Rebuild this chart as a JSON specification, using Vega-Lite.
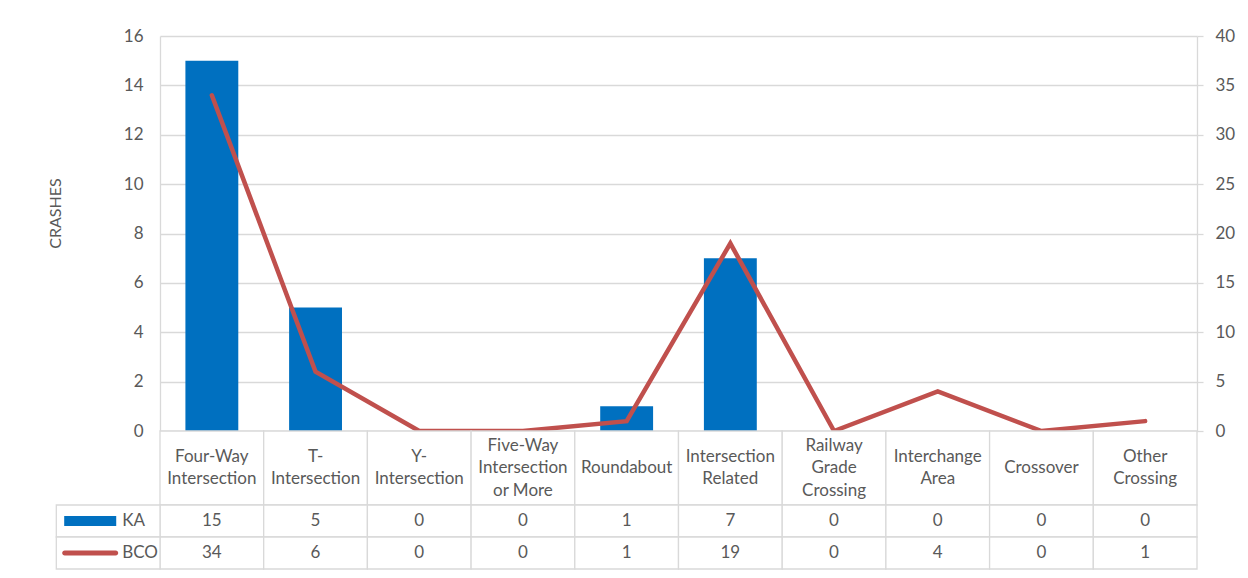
{
  "$schema": "https://vega.github.io/schema/vega-lite/v6.json",
  "padding": {"left": 47, "top": 27, "right": 5, "bottom": 5},
  "background": "white",
  "bounds": "flush",
  "spacing": 0,
  "config": {"view": {"stroke": null}, "font": "Lato"},
  "datasets": {
    "main": [
      {"category": "Four-Way Intersection", "label": "Four-Way\nIntersection", "KA": 15, "BCO": 34},
      {"category": "T-Intersection", "label": "T-\nIntersection", "KA": 5, "BCO": 6},
      {"category": "Y-Intersection", "label": "Y-\nIntersection", "KA": 0, "BCO": 0},
      {"category": "Five-Way Intersection or More", "label": "Five-Way\nIntersection\nor More", "KA": 0, "BCO": 0},
      {"category": "Roundabout", "label": "Roundabout", "KA": 1, "BCO": 1},
      {"category": "Intersection Related", "label": "Intersection\nRelated", "KA": 7, "BCO": 19},
      {"category": "Railway Grade Crossing", "label": "Railway\nGrade\nCrossing", "KA": 0, "BCO": 0},
      {"category": "Interchange Area", "label": "Interchange\nArea", "KA": 0, "BCO": 4},
      {"category": "Crossover", "label": "Crossover", "KA": 0, "BCO": 0},
      {"category": "Other Crossing", "label": "Other\nCrossing", "KA": 0, "BCO": 1}
    ],
    "keys": [
      {"series": "KA", "category": "key"},
      {"series": "BCO", "category": "key"}
    ]
  },
  "resolve": {"scale": {"x": "independent", "y": "independent", "color": "independent", "shape": "independent"}},
  "vconcat": [
    {
      "width": 1037,
      "height": 395,
      "data": {"name": "main"},
      "encoding": {
        "x": {"field": "category", "type": "nominal", "sort": null, "scale": {"paddingInner": 0, "paddingOuter": 0}, "axis": null}
      },
      "layer": [
        {
          "mark": {"type": "bar", "color": "#0070C0", "width": {"band": 0.51}},
          "encoding": {
            "y": {
              "field": "KA", "type": "quantitative",
              "scale": {"domain": [0, 16], "nice": false},
              "axis": {
                "orient": "left", "values": [0, 2, 4, 6, 8, 10, 12, 14, 16],
                "grid": true, "gridColor": "#d9d9d9", "gridWidth": 1.3,
                "domainColor": "#d9d9d9", "domainWidth": 1.3, "ticks": false,
                "labelPadding": 17, "labelFontSize": 17, "labelColor": "#595959", "labelFont": "Lato",
                "title": "CRASHES", "titleFont": "Lato", "titleFontSize": 16, "titleFontWeight": "normal",
                "titleColor": "#595959", "titlePadding": 60, "titleY": 177
              }
            }
          }
        },
        {
          "mark": {"type": "line", "color": "#C0504D", "strokeWidth": 4.5, "strokeCap": "round"},
          "encoding": {
            "y": {
              "field": "BCO", "type": "quantitative",
              "scale": {"domain": [0, 40], "nice": false},
              "axis": {
                "orient": "right", "values": [0, 5, 10, 15, 20, 25, 30, 35, 40],
                "grid": false, "domainColor": "#d9d9d9", "domainWidth": 1.3,
                "ticks": true, "tickColor": "#d9d9d9", "tickSize": 6, "tickWidth": 1.3,
                "labelPadding": 12, "labelFontSize": 17, "labelColor": "#595959", "labelFont": "Lato",
                "title": null
              }
            }
          }
        }
      ],
      "resolve": {"scale": {"y": "independent"}}
    },
    {
      "width": 1037,
      "height": 74,
      "data": {"name": "main"},
      "encoding": {
        "x": {"field": "category", "type": "nominal", "sort": null, "scale": {"paddingInner": 0, "paddingOuter": 0}, "axis": null}
      },
      "layer": [
        {"mark": {"type": "rect", "fill": "white", "stroke": "#d9d9d9", "strokeWidth": 1.3}},
        {
          "mark": {
            "type": "text", "font": "Lato", "fontSize": 17, "color": "#595959", "lineBreak": "\n", "lineHeight": 22.5, "baseline": "middle",
            "dy": {"expr": "-(length(split(datum.label, '\\n')) - 1) * 11.25"}
          },
          "encoding": {"text": {"field": "label", "type": "nominal"}}
        }
      ]
    },
    {
      "width": 1037,
      "height": 64,
      "encoding": {
        "x": {
          "field": "category", "type": "nominal",
          "scale": {
            "domain": ["key", "Four-Way Intersection", "T-Intersection", "Y-Intersection", "Five-Way Intersection or More", "Roundabout", "Intersection Related", "Railway Grade Crossing", "Interchange Area", "Crossover", "Other Crossing"],
            "range": [-103.7, 1037], "paddingInner": 0, "paddingOuter": 0
          },
          "axis": null
        },
        "y": {"field": "series", "type": "nominal", "scale": {"domain": ["KA", "BCO"], "paddingInner": 0, "paddingOuter": 0}, "axis": null}
      },
      "layer": [
        {
          "data": {"name": "main"},
          "transform": [{"fold": ["KA", "BCO"], "as": ["series", "value"]}],
          "mark": {"type": "rect", "fill": "white", "stroke": "#d9d9d9", "strokeWidth": 1.3}
        },
        {
          "data": {"name": "keys"},
          "mark": {"type": "rect", "fill": "white", "stroke": "#d9d9d9", "strokeWidth": 1.3}
        },
        {
          "data": {"name": "main"},
          "transform": [{"fold": ["KA", "BCO"], "as": ["series", "value"]}],
          "mark": {"type": "text", "font": "Lato", "fontSize": 17, "color": "#595959", "baseline": "middle"},
          "encoding": {"text": {"field": "value", "type": "quantitative"}}
        },
        {
          "data": {"name": "keys"},
          "mark": {"type": "point", "filled": true, "size": 3136, "opacity": 1, "strokeWidth": 0},
          "encoding": {
            "x": {"field": "category", "type": "nominal", "bandPosition": 0.327},
            "color": {"field": "series", "type": "nominal", "scale": {"domain": ["KA", "BCO"], "range": ["#0070C0", "#C0504D"]}, "legend": null},
            "shape": {"field": "series", "type": "nominal", "scale": {"domain": ["KA", "BCO"], "range": ["M-0.929,-0.179H0.929V0.179H-0.929Z", "M-0.911,-0.089H0.911A0.089,0.089 0 0 1 0.911,0.089H-0.911A0.089,0.089 0 0 1 -0.911,-0.089Z"]}, "legend": null}
          }
        },
        {
          "data": {"name": "keys"},
          "mark": {"type": "text", "font": "Lato", "fontSize": 17, "color": "#595959", "align": "left", "baseline": "middle"},
          "encoding": {
            "x": {"field": "category", "type": "nominal", "bandPosition": 0.635},
            "text": {"field": "series", "type": "nominal"}
          }
        }
      ]
    }
  ]
}
